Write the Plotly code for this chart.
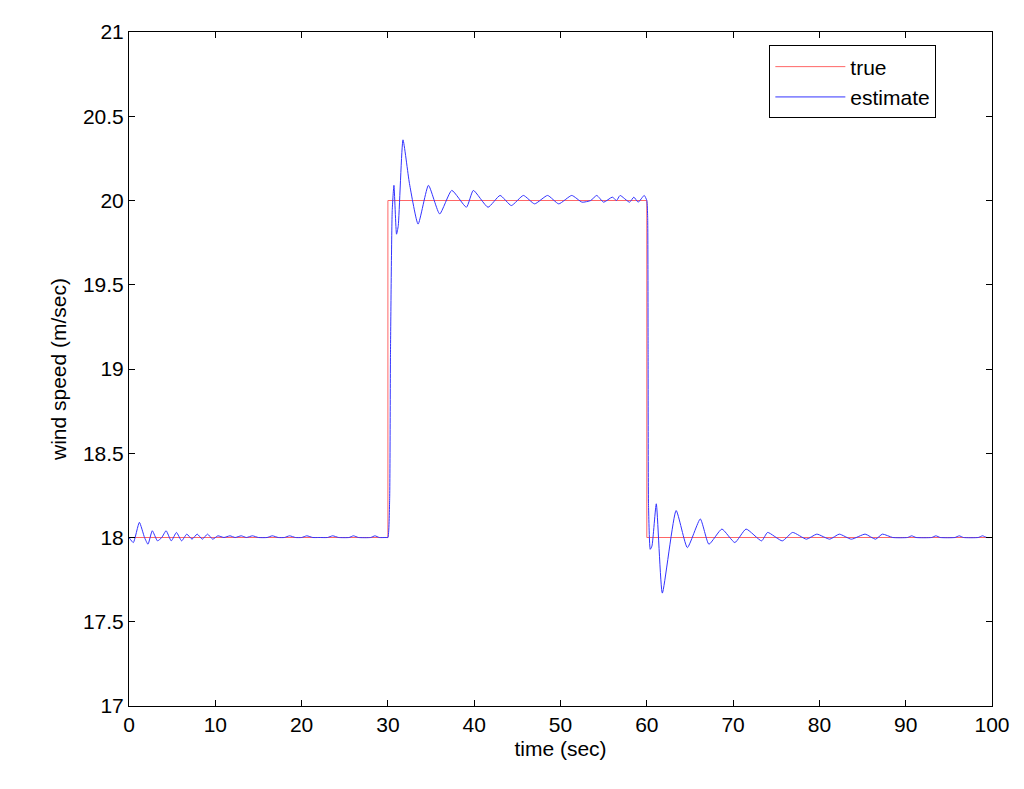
import plotly.graph_objects as go

true_t = [0, 30, 30, 60, 60, 100]
true_v = [18, 18, 20, 20, 18, 18]

est_t = [0, 0.5, 1.2, 1.8, 2.2, 2.7, 3.3, 3.8, 4.3, 4.9, 5.5, 6.1, 6.7, 7.3, 7.9, 8.5, 9.1, 9.7, 10.3, 11, 11.7, 12.3, 13, 13.6, 14.3,
         15, 16, 16.6, 17.3, 18, 18.6, 19.3, 20, 20.6, 21.3, 22, 23, 23.6, 24.3, 25.5, 26, 26.6, 28, 28.5, 29, 29.8,
         30.0, 30.2, 30.3, 30.5, 30.7, 31.0, 31.2, 31.75, 32.5, 33.5, 34.7, 36.0, 37.4, 39.1, 39.9, 41.6, 43.0, 44.3, 45.7,
         47.0, 48.5, 49.8, 51.3, 52.5, 53.5, 54.2, 55.0, 56.0, 56.5, 56.9, 58.0, 58.5, 59.0, 59.7, 60.0,
         60.1, 60.15, 60.2, 60.4, 60.6, 61.1, 61.8, 63.4, 64.7, 66.2, 67.2, 68.7, 70.2, 71.5, 73.3, 74.0, 75.7, 76.9,
         78.5, 79.7, 81.2, 82.3, 83.7, 85.3, 86.5, 87.3, 88.5, 90.2, 90.7, 91.2, 93.0, 93.5, 94.0, 95.7, 96.2, 96.7,
         98.4, 98.9, 99.4, 100]
est_v = [18.0, 17.97, 18.09, 18.0, 17.96, 18.04, 17.98, 18.0, 18.04, 17.98, 18.03, 17.98, 18.02, 17.99, 18.02, 17.99, 18.02, 17.99, 18.01, 18.0, 18.01, 18.0, 18.01, 18.0, 18.01,
         18.0, 18.0, 18.01, 18.0, 18.0, 18.01, 18.0, 18.0, 18.01, 18.0, 18.0, 18.0, 18.01, 18.0, 18.0, 18.01, 18.0, 18.0, 18.01, 18.0, 18.0,
         18.0, 18.22, 19.1, 19.94, 20.09, 19.8, 19.85, 20.36, 20.1, 19.86, 20.09, 19.92, 20.06, 19.96, 20.06, 19.96, 20.03, 19.97, 20.03,
         19.98, 20.03, 19.98, 20.03, 19.99, 20.0, 20.03, 19.99, 20.02, 20.0, 20.03, 19.99, 20.02, 19.99, 20.03, 20.0,
         19.9, 19.1, 18.19, 17.93, 17.95, 18.2, 17.67, 18.16, 17.94, 18.11, 17.96, 18.05, 17.97, 18.05, 17.98, 18.03, 17.98, 18.03,
         17.99, 18.02, 17.99, 18.02, 17.99, 18.02, 17.99, 18.02, 18.0, 18.0, 18.01, 18.0, 18.0, 18.01, 18.0, 18.0, 18.01, 18.0,
         18.0, 18.01, 18.0, 18.0]

fig = go.Figure()
fig.add_trace(go.Scatter(x=true_t, y=true_v, mode="lines", name="true",
                         line=dict(color="#ff6666", width=1)))
fig.add_trace(go.Scatter(x=est_t, y=est_v, mode="lines", name="estimate",
                         line=dict(color="#3333ff", width=1, shape="spline", smoothing=0.5)))

axis_common = dict(showgrid=False, zeroline=False, showline=True, mirror="ticks",
                   linecolor="black", linewidth=1, ticks="inside", ticklen=6,
                   tickcolor="black", tickfont=dict(size=21, color="black"))
fig.update_layout(
    width=1024, height=789,
    paper_bgcolor="white", plot_bgcolor="white",
    font=dict(family="Liberation Sans, Arial", color="black"),
    margin=dict(l=121, r=40, t=20, b=91),
    xaxis=dict(range=[0, 100], dtick=10, title=dict(text="time (sec)", font=dict(size=21), standoff=6), **axis_common),
    yaxis=dict(range=[17, 21], dtick=0.5, title=dict(text="wind speed (m/sec)", font=dict(size=21), standoff=10), **axis_common),
    legend=dict(x=0.742, y=0.98, xanchor="left", yanchor="top", bordercolor="black", borderwidth=1,
                bgcolor="white", font=dict(size=21), itemwidth=70, tracegroupgap=0),
    showlegend=True,
)
fig.write_html("out.html")
